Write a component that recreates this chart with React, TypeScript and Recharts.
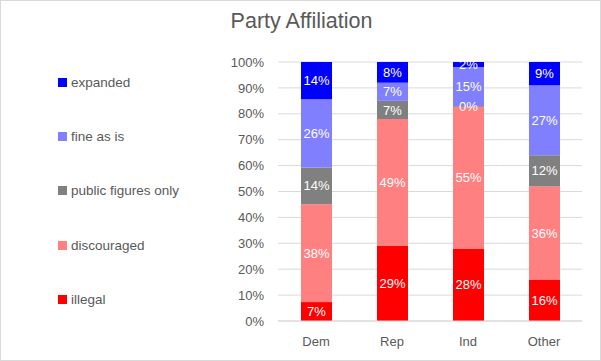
import { BarChart, Bar, XAxis, YAxis, CartesianGrid, LabelList } from 'recharts';

const parties = ['Dem', 'Rep', 'Ind', 'Other'];
const illegal = [7.3, 29, 28, 16];
const discouraged = [37.8, 49, 54.7, 36];
const publicOnly = [14.2, 7, 0.3, 12];
const fineAsIs = [26.3, 7, 15, 27];
const expanded = [14.4, 8, 2, 9];
const yTicks = [0, 10, 20, 30, 40, 50, 60, 70, 80, 90, 100];

const series = [
  { key: 'illegal', name: 'illegal', color: '#ff0000' },
  { key: 'discouraged', name: 'discouraged', color: '#ff8080' },
  { key: 'publicOnly', name: 'public figures only', color: '#808080' },
  { key: 'fineAsIs', name: 'fine as is', color: '#8080ff' },
  { key: 'expanded', name: 'expanded', color: '#0000ff' },
];

const data = parties.map((party, i) => ({
  party,
  illegal: illegal[i],
  discouraged: discouraged[i],
  publicOnly: publicOnly[i],
  fineAsIs: fineAsIs[i],
  expanded: expanded[i],
}));

const font = '"Liberation Sans", Arial, sans-serif';

function LegendBox() {
  return (
    <div
      style={{
        position: 'absolute',
        left: 57,
        top: 54,
        fontFamily: font,
        fontSize: 13.5,
        color: '#595959',
      }}
    >
      {[...series].reverse().map(s => (
        <div key={s.key} style={{ height: 54.3, display: 'flex', alignItems: 'center' }}>
          <span style={{ width: 9, height: 9, background: s.color, display: 'inline-block', marginRight: 4 }} />
          <span>{s.name}</span>
        </div>
      ))}
    </div>
  );
}

export default function App() {
  return (
    <div
      style={{
        position: 'fixed',
        left: 0,
        top: 0,
        width: 601,
        height: 361,
        boxSizing: 'border-box',
        border: '1px solid #d9d9d9',
        background: '#fff',
        fontFamily: font,
      }}
    >
      <div
        style={{
          position: 'absolute',
          top: 8,
          left: 0,
          width: 601,
          textAlign: 'center',
          fontSize: 21.5,
          color: '#595959',
        }}
      >
        Party Affiliation
      </div>
      <LegendBox />
      <div style={{ position: 'absolute', left: -1, top: -1 }}>
        <BarChart width={601} height={361} data={data} margin={{ top: 62, right: 19, bottom: 10, left: 0 }}>
          <CartesianGrid stroke="#d9d9d9" vertical={false} />
          <XAxis
            dataKey="party"
            axisLine={{ stroke: '#d9d9d9' }}
            tickLine={false}
            tick={{ fill: '#595959', fontSize: 13, fontFamily: font }}
            tickMargin={10}
            height={30}
          />
          <YAxis
            domain={[0, 100]}
            ticks={yTicks}
            tickFormatter={(v: number) => `${v}%`}
            axisLine={false}
            tickLine={false}
            tickSize={0}
            tickMargin={14}
            width={278}
            tick={{ fill: '#595959', fontSize: 13, fontFamily: font }}
          />
          {series.map(s => (
            <Bar key={s.key} dataKey={s.key} name={s.name} stackId="a" fill={s.color} barSize={31} isAnimationActive={false}>
              <LabelList
                dataKey={s.key}
                position="center"
                fill="#ffffff"
                fontSize={13}
                fontFamily={font}
                formatter={(v: number) => `${Math.round(v)}%`}
              />
            </Bar>
          ))}
        </BarChart>
      </div>
    </div>
  );
}
